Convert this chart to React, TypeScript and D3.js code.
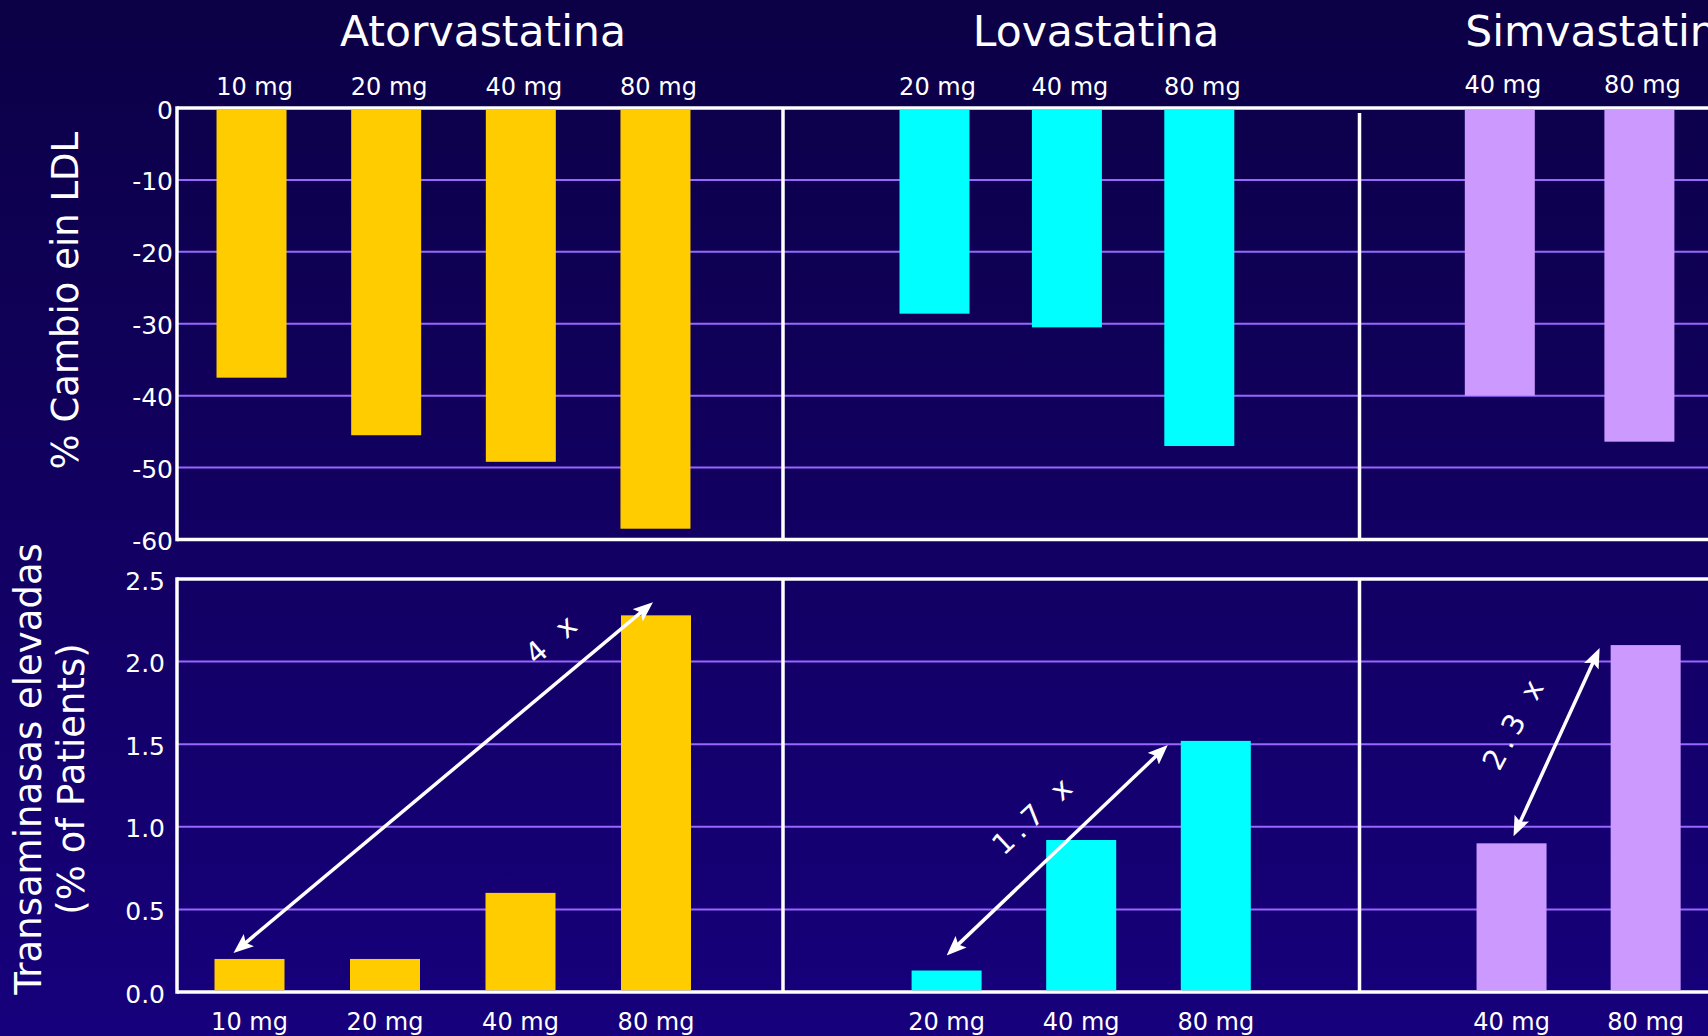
import React from 'react';
import * as d3 from 'd3';

// ---------- data ----------
const groupNames = ['Atorvastatina', 'Lovastatina', 'Simvastatina'];
const atorDoses = ['10 mg', '20 mg', '40 mg', '80 mg'];
const lovaDoses = ['20 mg', '40 mg', '80 mg'];
const simvaDoses = ['40 mg', '80 mg'];
const atorLDL = [-37.5, -45.5, -49.2, -58.5];
const lovaLDL = [-28.6, -30.5, -47];
const simvaLDL = [-40, -46.4];
const atorTrans = [0.2, 0.2, 0.6, 2.28];
const lovaTrans = [0.13, 0.92, 1.52];
const simvaTrans = [0.9, 2.1];
const ldlTicks = [0, -10, -20, -30, -40, -50, -60];
const transTicks = [0.0, 0.5, 1.0, 1.5, 2.0, 2.5];
const annotations = [
  { group: 0, from: '10 mg', to: '80 mg', label: '4 x' },
  { group: 1, from: '20 mg', to: '80 mg', label: '1.7 x' },
  { group: 2, from: '40 mg', to: '80 mg', label: '2.3 x' },
];
const ldlTitle = '% Cambio ein LDL';
const transTitle = ['Transaminasas elevadas', '(% of Patients)'];

// ---------- layout / style ----------
const W = 1708;
const H = 1036;
const PLOT_LEFT = 177;
const DIVIDERS = [783, 1359.5];
const TOP_RANGE: [number, number] = [108, 539.5];
const BOT_RANGE: [number, number] = [992, 579];
const topBandRanges: [number, number][] = [[184.2, 722.8], [868.3, 1265.5], [1430, 1709.2]];
const botBandRanges: [number, number][] = [[181.75, 723.75], [879.3, 1283.1], [1444.5, 1712.7]];
const titleX = [483, 1096, 1604];
const BAR_W = 70;
const colors = ['#ffcc00', '#00ffff', '#cc99ff'];
const GRID = '#9966ff';
const FONT = '"DejaVu Sans", Verdana, sans-serif';
// arrow endpoint offsets (px) relative to bar centre/top, and label offsets from arrow midpoint
const arrowLayout = [
  { s: [-16, -6], e: [-3, -13], l: [110, -140], rot: -41 },
  { s: [0, -15], e: [-48, 4], l: [-23, -36], rot: -43 },
  { s: [2, -7], e: [-46, 3], l: [-42, -20], rot: -62 },
];

function band(domain: string[], r: [number, number]) {
  const n = domain.length;
  const step = (r[1] - r[0]) / n;
  const pi = 1 - BAR_W / step;
  return d3.scaleBand<string>().domain(domain).range(r).paddingInner(pi).paddingOuter(pi / 2);
}

export default function App() {
  const yTop = d3.scaleLinear().domain([0, -60]).range(TOP_RANGE);
  const yBot = d3.scaleLinear().domain([0, 2.5]).range(BOT_RANGE);
  const groups = [
    { doses: atorDoses, ldl: atorLDL, trans: atorTrans },
    { doses: lovaDoses, ldl: lovaLDL, trans: lovaTrans },
    { doses: simvaDoses, ldl: simvaLDL, trans: simvaTrans },
  ].map((g, i) => ({
    ...g,
    color: colors[i],
    xt: band(g.doses, topBandRanges[i]),
    xb: band(g.doses, botBandRanges[i]),
  }));

  const frame = { stroke: '#ffffff', strokeWidth: 3.5 };

  return (
    <svg width={W} height={H} style={{ position: 'absolute', left: 0, top: 0, display: 'block' }}>
      <defs>
        <linearGradient id="bg" x1="0" y1="0" x2="0" y2="1">
          <stop offset="0" stopColor="#0c0046" />
          <stop offset="1" stopColor="#17007c" />
        </linearGradient>
        <marker id="ah" viewBox="0 0 20 16" refX="14" refY="8" markerWidth="20" markerHeight="16"
          markerUnits="userSpaceOnUse" orient="auto-start-reverse">
          <path d="M0,0 L20,8 L0,16 L4,8 Z" fill="#ffffff" />
        </marker>
      </defs>
      <rect x={0} y={0} width={W} height={H} fill="url(#bg)" />

      {/* group titles */}
      {groupNames.map((n, i) => (
        <text key={n} x={titleX[i]} y={45.5} fill="#fff" fontFamily={FONT} fontSize={42.5} textAnchor="middle">{n}</text>
      ))}

      {/* grid lines */}
      {ldlTicks.slice(1, -1).map((t) => (
        <line key={'gt' + t} x1={PLOT_LEFT} x2={W} y1={yTop(t)} y2={yTop(t)} stroke={GRID} strokeWidth={2} />
      ))}
      {transTicks.slice(1, -1).map((t) => (
        <line key={'gb' + t} x1={PLOT_LEFT} x2={W} y1={yBot(t)} y2={yBot(t)} stroke={GRID} strokeWidth={2} />
      ))}

      {/* frames */}
      <line x1={PLOT_LEFT} x2={W} y1={yTop(0)} y2={yTop(0)} {...frame} />
      <line x1={PLOT_LEFT} x2={W} y1={yTop(-60)} y2={yTop(-60)} {...frame} />
      <line x1={PLOT_LEFT} x2={PLOT_LEFT} y1={yTop(0) - 1.75} y2={yTop(-60) + 1.75} {...frame} />
      <line x1={DIVIDERS[0]} x2={DIVIDERS[0]} y1={yTop(0)} y2={yTop(-60)} {...frame} />
      <line x1={DIVIDERS[1]} x2={DIVIDERS[1]} y1={yTop(0) + 5} y2={yTop(-60)} {...frame} />

      <line x1={PLOT_LEFT} x2={W} y1={yBot(2.5)} y2={yBot(2.5)} {...frame} />
      <line x1={PLOT_LEFT} x2={W} y1={yBot(0)} y2={yBot(0)} {...frame} />
      <line x1={PLOT_LEFT} x2={PLOT_LEFT} y1={yBot(2.5) - 1.75} y2={yBot(0) + 1.75} {...frame} />
      {DIVIDERS.map((d) => (
        <line key={'db' + d} x1={d} x2={d} y1={yBot(2.5)} y2={yBot(0)} {...frame} />
      ))}

      {/* bars */}
      {groups.map((g, gi) => (
        <g key={'bars' + gi}>
          {g.doses.map((d, i) => (
            <rect key={'t' + d} x={g.xt(d)} width={g.xt.bandwidth()} y={yTop(0) + 1.75}
              height={yTop(g.ldl[i]) - yTop(0) - 1.75} fill={g.color} />
          ))}
          {g.doses.map((d, i) => (
            <rect key={'b' + d} x={g.xb(d)} width={g.xb.bandwidth()} y={yBot(g.trans[i])}
              height={yBot(0) - yBot(g.trans[i]) - 1.75} fill={g.color} />
          ))}
        </g>
      ))}

      {/* dose labels */}
      {groups.map((g, gi) => (
        <g key={'lab' + gi} fill="#fff" fontFamily={FONT} fontSize={24} textAnchor="middle">
          {g.doses.map((d) => (
            <text key={'lt' + d} x={(g.xt(d) as number) + g.xt.bandwidth() / 2 + 3} y={gi === 2 ? 93 : 95}>{d}</text>
          ))}
          {g.doses.map((d) => (
            <text key={'lb' + d} x={(g.xb(d) as number) + g.xb.bandwidth() / 2} y={1030}>{d}</text>
          ))}
        </g>
      ))}

      {/* y tick labels */}
      <g fill="#fff" fontFamily={FONT} fontSize={25} textAnchor="end">
        {ldlTicks.map((t) => (
          <text key={'yt' + t} x={173} y={yTop(t) + 2} dominantBaseline="central">{String(t)}</text>
        ))}
        {transTicks.map((t) => (
          <text key={'yb' + t} x={165} y={yBot(t) + 2} dominantBaseline="central">{t.toFixed(1)}</text>
        ))}
      </g>

      {/* y titles */}
      <text transform={`translate(78,300.7) rotate(-90)`} fill="#fff" fontFamily={FONT} fontSize={37} textAnchor="middle">{ldlTitle}</text>
      <text transform={`translate(41,769) rotate(-90)`} fill="#fff" fontFamily={FONT} fontSize={37} textAnchor="middle">{transTitle[0]}</text>
      <text transform={`translate(84,779) rotate(-90)`} fill="#fff" fontFamily={FONT} fontSize={37} textAnchor="middle">{transTitle[1]}</text>

      {/* annotations */}
      {annotations.map((a, i) => {
        const g = groups[a.group];
        const idxF = g.doses.indexOf(a.from);
        const idxT = g.doses.indexOf(a.to);
        const L = arrowLayout[i];
        const x0 = (g.xb(a.from) as number) + g.xb.bandwidth() / 2 + L.s[0];
        const y0 = yBot(g.trans[idxF]) + L.s[1];
        const x1 = (g.xb(a.to) as number) + g.xb.bandwidth() / 2 + L.e[0];
        const y1 = yBot(g.trans[idxT]) + L.e[1];
        const len = Math.hypot(x1 - x0, y1 - y0);
        const ux = (x1 - x0) / len;
        const uy = (y1 - y0) / len;
        const sh = 6;
        const mx = (x0 + x1) / 2;
        const my = (y0 + y1) / 2;
        return (
          <g key={'ann' + i}>
            <line x1={x0 + ux * sh} y1={y0 + uy * sh} x2={x1 - ux * sh} y2={y1 - uy * sh}
              stroke="#fff" strokeWidth={3.5} markerStart="url(#ah)" markerEnd="url(#ah)" />
            <text transform={`translate(${mx + L.l[0]},${my + L.l[1]}) rotate(${L.rot})`} fill="#fff"
              fontFamily={FONT} fontSize={29} letterSpacing={6} textAnchor="middle" dominantBaseline="central">{a.label}</text>
          </g>
        );
      })}
    </svg>
  );
}
